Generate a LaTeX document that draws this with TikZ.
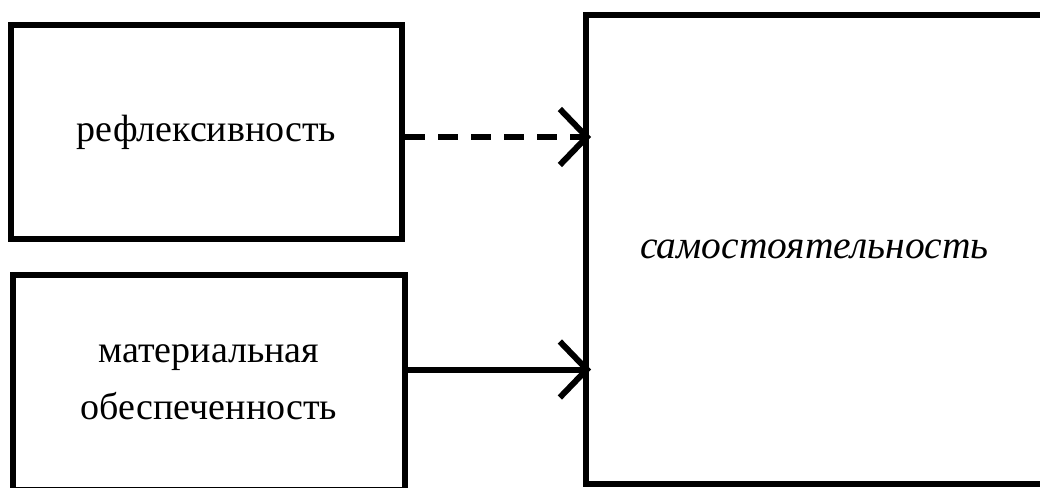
\documentclass[tikz,border=0pt]{standalone}
\usepackage{fontspec}
\setmainfont{Liberation Serif}
\usetikzlibrary{arrows.meta}
\tikzset{
  box/.style={draw, line width=6pt, inner sep=0pt, align=center, font=\fontsize{38}{57}\selectfont},
  conn/.style={line width=6pt, shorten >=-8pt, -{Straight Barb[length=27pt, width=56pt, line width=6pt]}},
  dashedconn/.style={conn, dash pattern=on 20pt off 13pt}
}
\begin{document}
\begin{tikzpicture}[x=1pt, y=-1pt]
\useasboundingbox (0,0) rectangle (1040,487);
\node[box, minimum width=391pt, minimum height=214pt] (b1) at (206.5,132) {рефлексивность};
\node[box, minimum width=392pt, minimum height=215pt] (b2) at (209,382.5) {материальная\\обеспеченность};
\node[box, minimum width=457pt, minimum height=469pt, font=\fontsize{39.5}{57}\selectfont\itshape] (big) at (814.5,249.5) {самостоятельность};
\draw[dashedconn] ([yshift=-5pt]b1.east) -- ([yshift=-5pt]b1.east -| big.west);
\draw[conn] ([yshift=13pt]b2.east) -- ([yshift=13pt]b2.east -| big.west);
\end{tikzpicture}
\end{document}
